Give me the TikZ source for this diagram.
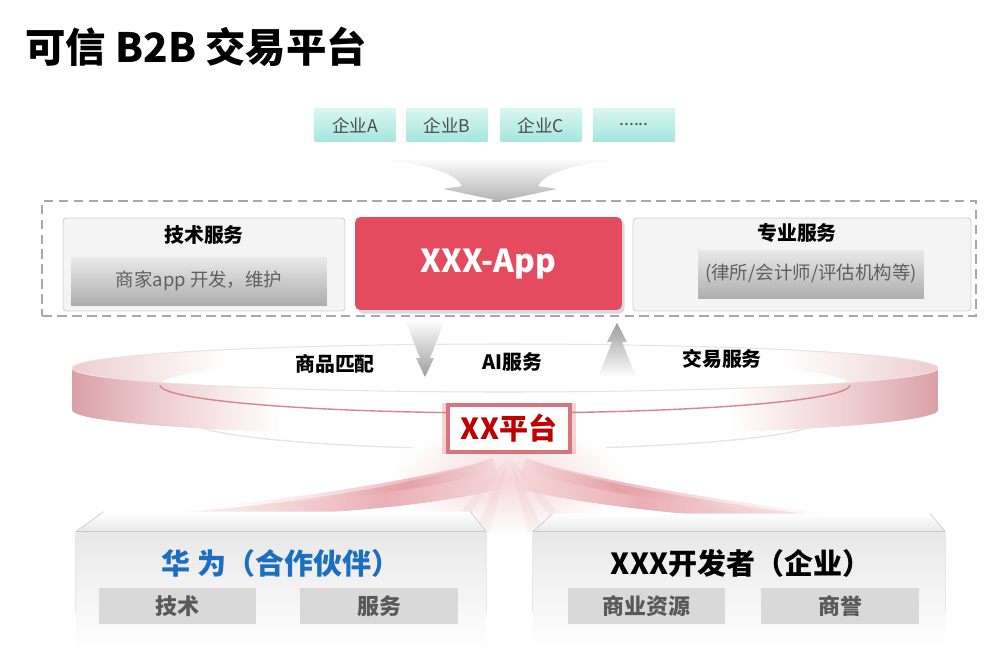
\documentclass[tikz,border=0pt]{standalone}
\usepackage{fontspec}
\setmainfont{Noto Sans CJK SC}
\usepackage{tikz}
\usetikzlibrary{shadows}

\definecolor{firmtop}{HTML}{DAF6F1}
\definecolor{firmbot}{HTML}{A4E6DE}
\definecolor{firmtext}{HTML}{4D4D4D}
\definecolor{panelfill}{HTML}{F4F4F4}
\definecolor{panelline}{HTML}{CFCFCF}
\definecolor{subtop}{HTML}{E9E9E9}
\definecolor{subbot}{HTML}{AEAEAE}
\definecolor{subtext}{HTML}{5F5F5F}
\definecolor{appred}{HTML}{E54B5E}
\definecolor{framegray}{HTML}{A8A8A8}
\definecolor{funnelgray}{HTML}{B2B2B2}
\definecolor{arrowgray}{HTML}{9C9C9C}
\definecolor{ringdark}{HTML}{D9A0A6}
\definecolor{ringmid}{HTML}{EDCDD0}
\definecolor{ringline}{HTML}{D8868E}
\definecolor{ringfaint}{HTML}{F0E0E1}
\definecolor{rayred}{HTML}{E2949B}
\definecolor{raylight}{HTML}{F5D6D8}
\definecolor{xxred}{HTML}{C00000}
\definecolor{xxglow}{HTML}{D9737C}
\definecolor{hwblue}{HTML}{1B6EC2}
\definecolor{chipfill}{HTML}{D9D9D9}
\definecolor{chiptext}{HTML}{595959}
\definecolor{facegray}{HTML}{E8E8E8}
\definecolor{faceline}{HTML}{CBCBCB}

% the path box runs from 25bp to 75bp
\pgfdeclarehorizontalshading{ringface}{100bp}{color(0bp)=(ringdark); color(25bp)=(ringdark); color(30bp)=(ringmid); color(37bp)=(white); color(63bp)=(white); color(70bp)=(ringmid); color(75bp)=(ringdark); color(100bp)=(ringdark)}
\pgfdeclarehorizontalshading{ringtop}{100bp}{color(0bp)=(ringmid); color(25bp)=(ringmid); color(34bp)=(white); color(66bp)=(white); color(75bp)=(ringmid); color(100bp)=(ringmid)}
\pgfdeclarehorizontalshading{sweepleft}{100bp}{color(0bp)=(white); color(25bp)=(white); color(42bp)=(raylight); color(60bp)=(rayred); color(75bp)=(raylight); color(100bp)=(raylight)}
\pgfdeclarehorizontalshading{sweepright}{100bp}{color(0bp)=(raylight); color(25bp)=(raylight); color(40bp)=(rayred); color(58bp)=(raylight); color(75bp)=(white); color(100bp)=(white)}

\begin{document}
\begin{tikzpicture}[x=0.02cm,y=-0.02cm]
  \tikzstyle{firm} = [rectangle, minimum width=1.62cm, minimum height=0.68cm, inner sep=0pt, top color=firmtop, bottom color=firmbot, text=firmtext, font=\fontsize{10}{12}\selectfont]
  \tikzstyle{panel} = [rectangle, rounded corners=2pt, minimum height=1.86cm, fill=panelfill, draw=panelline, line width=0.5pt]
  \tikzstyle{subbox} = [rectangle, minimum height=0.96cm, top color=subtop, bottom color=subbot, text=subtext, font=\fontsize{10.5}{12}\selectfont]
  \tikzstyle{headtxt} = [font=\bfseries\fontsize{11.3}{13}\selectfont]
  \tikzstyle{svc} = [font=\bfseries\fontsize{11.3}{13}\selectfont]
  \tikzstyle{appbox} = [rectangle, rounded corners=3pt, minimum width=5.34cm, minimum height=1.86cm, fill=appred, text=white, font=\bfseries\fontsize{18}{22}\selectfont, drop shadow={opacity=0.3, shadow xshift=1.5pt, shadow yshift=-2pt}]
  \tikzstyle{xxbox} = [rectangle, minimum width=2.44cm, minimum height=0.94cm, fill=white, draw=xxglow, line width=2.4pt, text=xxred, font=\bfseries\fontsize{16.5}{20}\selectfont, general shadow={fill=xxglow, opacity=0.3, shadow scale=1.1}]
  \tikzstyle{basebox} = [rectangle, minimum height=2.36cm, inner sep=0pt, top color=facegray, bottom color=white]
  \tikzstyle{chip} = [rectangle, minimum width=3.16cm, minimum height=0.72cm, fill=chipfill, text=chiptext, font=\bfseries\fontsize{12.5}{14}\selectfont]

  \useasboundingbox (0,0) rectangle (1000,666);

  \node[anchor=west, inner sep=0pt, font=\bfseries\fontsize{23}{27}\selectfont] (title) at (25,47) {可信 B2B 交易平台};

  % firms on top
  \node[firm] (firmA) at (355,125) {企业A};
  \node[firm] (firmB) at (447,125) {企业B};
  \node[firm] (firmC) at (541,125) {企业C};
  \node[firm, minimum width=1.64cm] (firmD) at (634,125) {......};

  % funnel arrow
  \shade[top color=white, bottom color=funnelgray] (363,158) .. controls (420,162) and (455,172) .. (462,186) -- (443,189) -- (500,201) -- (557,189) -- (538,186) .. controls (545,172) and (580,162) .. (637,158) -- cycle;

  % service row
  \node[draw=framegray, dash pattern=on 5.5pt off 3pt, line width=0.8pt, minimum width=18.68cm, minimum height=2.3cm] (frame) at (509,258.5) {};
  \node[panel, minimum width=5.64cm] (tech) at (204,264.5) {};
  \node[headtxt] (techhead) at (204,235) {技术服务};
  \node[subbox, minimum width=5.12cm] (techsub) at (199,281) {商家app 开发，维护};
  \node[appbox] (app) at (488.5,263.5) {XXX-App};
  \node[panel, minimum width=6.76cm] (pro) at (802,264.5) {};
  \node[headtxt] (prohead) at (797,233) {专业服务};
  \node[subbox, minimum width=4.52cm] (prosub) at (811,274) {(律所/会计师/评估机构等)};

  % ring
  \shade[shading=ringtop] (505,368) ellipse [x radius=8.66cm, y radius=0.48cm];
  \fill[white] (505,385) ellipse [x radius=6.9cm, y radius=0.56cm];
  \shade[shading=ringface] (72,368) arc[start angle=180, end angle=360, x radius=8.66cm, y radius=0.48cm] -- (938,410) arc[start angle=0, end angle=-180, x radius=8.66cm, y radius=0.52cm] -- cycle;
  \draw[ringfaint, line width=0.6pt] (505,368) ellipse [x radius=8.66cm, y radius=0.48cm];
  \draw[ringline, line width=0.8pt] (160,385) arc[start angle=180, end angle=360, x radius=6.9cm, y radius=0.56cm];
  \draw[ringfaint, line width=0.8pt] (190,420) arc[start angle=180, end angle=360, x radius=6.3cm, y radius=0.58cm];

  % up and down arrows
  \shade[top color=white, bottom color=arrowgray] (405,320) -- (445,320) -- (430,358) -- (434,358) -- (425,377) -- (416,358) -- (420,358) -- cycle;
  \shade[top color=arrowgray, bottom color=white] (617,323) -- (627,342) -- (622,342) -- (636,377) -- (598,377) -- (612,342) -- (607,342) -- cycle;
  \node[svc] (match) at (335,364) {商品匹配};
  \node[svc] (ai) at (512,362) {AI服务};
  \node[svc] (trade) at (722,359) {交易服务};

  % rays under the platform
  \shade[inner color=raylight, outer color=white] (509,480) ellipse [x radius=2.4cm, y radius=1.1cm];
  \foreach \e in {450,482,536,568}
    \fill[rayred, opacity=0.1] (509,457) -- (\e-8,532) -- (\e+8,532) -- cycle;
  \shade[shading=sweepleft, opacity=0.75] (492,458) .. controls (420,486) and (270,508) .. (115,517) .. controls (280,520) and (430,508) .. (502,488) -- cycle;
  \shade[shading=sweepleft, opacity=0.6] (486,461) .. controls (420,478) and (330,494) .. (215,506) .. controls (330,502) and (430,490) .. (492,471) -- cycle;
  \shade[shading=sweepright, opacity=0.75] (526,458) .. controls (600,488) and (770,512) .. (935,528) .. controls (770,524) and (600,510) .. (516,488) -- cycle;
  \shade[shading=sweepright, opacity=0.6] (532,461) .. controls (600,480) and (700,498) .. (830,514) .. controls (700,508) and (590,492) .. (526,471) -- cycle;

  \node[xxbox] (xx) at (509,428.5) {XX平台};

  % partners at the bottom
  \node[basebox, minimum width=8.2cm] (partner) at (281,591) {};
  \node[basebox, minimum width=8.24cm] (dev) at (739,591) {};
  \shade[top color=white, bottom color=facegray] (partner.north west) -- ++(28,-20) -- ++(366,0) -- (partner.north east) -- cycle;
  \shade[top color=white, bottom color=facegray] (dev.north west) -- ++(20,-18) -- ++(377,0) -- (dev.north east) -- cycle;
  \draw[faceline] (partner.north west) -- ++(28,-20);
  \draw[faceline] (partner.north east) -- ++(-16,-20);
  \draw[faceline] (dev.north west) -- ++(20,-18);
  \draw[faceline] (dev.north east) -- ++(-15,-18);
  \draw[faceline, line width=0.8pt] (partner.north west) -- (partner.north east);
  \draw[faceline, line width=0.8pt] (dev.north west) -- (dev.north east);
  \draw[facegray] (partner.north west) -- ++(0,80);
  \draw[facegray] (partner.north east) -- ++(0,80);
  \draw[facegray] (dev.north west) -- ++(0,80);
  \draw[facegray] (dev.north east) -- ++(0,80);

  \node[text=hwblue, font=\bfseries\fontsize{16.5}{20}\selectfont] (partnerhead) at (281,563) {华 为（合作伙伴）};
  \node[font=\bfseries\fontsize{16.5}{20}\selectfont] (devhead) at (741,563) {XXX开发者（企业）};
  \node[chip] (tech2) at (177.5,606) {技术};
  \node[chip] (serv) at (379,606) {服务};
  \node[chip] (res) at (646.5,606) {商业资源};
  \node[chip] (fame) at (840,606) {商誉};
\end{tikzpicture}
\end{document}
